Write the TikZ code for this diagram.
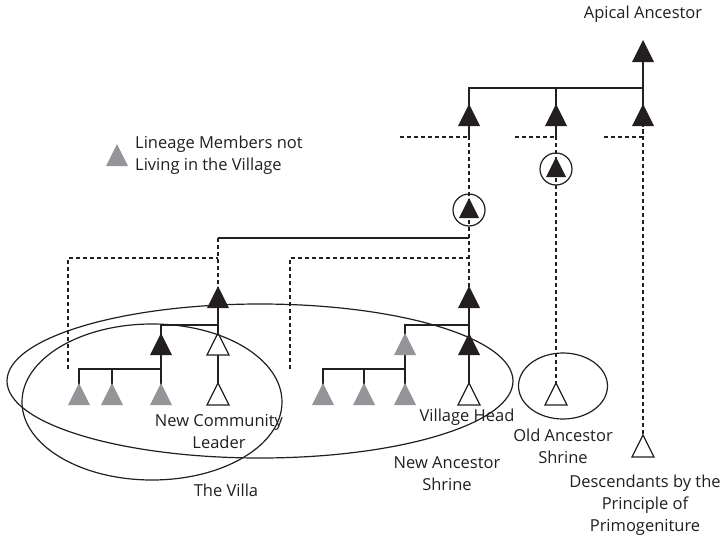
\documentclass[tikz,border=0pt]{standalone}
\usepackage{fontspec}
\setmainfont{Open Sans}
\usetikzlibrary{shapes.geometric}
\pgfdeclarelayer{bg}
\pgfsetlayers{bg,main}
\definecolor{ink}{HTML}{231F20}
\definecolor{lgray}{HTML}{939598}
\begin{document}
\begin{tikzpicture}[x=1pt,y=-1pt,
  font=\fontsize{16.5pt}{22pt}\selectfont,
  trisz/.store in=\tsz, trisz=11pt,
  tri/.style={trisz=11pt, minimum size=26pt, inner sep=0pt, outer sep=0pt,
    path picture={\path[#1]
      ([shift={(-\tsz,-\tsz)}]path picture bounding box.center) --
      ([shift={(0pt,\tsz)}]path picture bounding box.center) --
      ([shift={(\tsz,-\tsz)}]path picture bounding box.center) -- cycle;}},
  blk/.style={tri={fill=ink}},
  gry/.style={tri={fill=lgray}},
  wht/.style={tri={fill=white, draw=ink, line width=1.3pt}},
  conn/.style={draw=ink, line width=1.4pt},
  dashedline/.style={draw=ink, line width=1.3pt, dash pattern=on 4pt off 3pt},
  ring/.style={circle, draw=ink, line width=1.2pt, minimum size=32pt, inner sep=0pt},
  oval/.style={ellipse, draw=ink, line width=1.2pt, inner sep=0pt},
  lbl/.style={text=ink, align=center, inner sep=0pt}]
\useasboundingbox (0,0) rectangle (724,536);

% triangles
\node[blk] (apex) at (643,51) {};
\node[blk] (k1) at (469,115) {};
\node[blk] (k2) at (556,115) {};
\node[blk] (k3) at (643,115) {};
\node[blk, trisz=10pt] (c1) at (469,208) {};
\node[ring] (r1) at (469,210) {};
\node[blk, trisz=10pt] (c2) at (556,167) {};
\node[ring] (r2) at (556,169) {};
\node[blk] (A) at (218,297) {};
\node[blk] (B) at (161,344) {};
\node[wht] (C) at (218,344) {};
\node[gry] (g1) at (79,394) {};
\node[gry] (g2) at (112,394) {};
\node[gry] (g3) at (161,394) {};
\node[wht] (D) at (218,394) {};
\node[blk] (E) at (469,297) {};
\node[gry] (F) at (405,344) {};
\node[blk] (G) at (469,344) {};
\node[gry] (g4) at (323,394) {};
\node[gry] (g5) at (364,394) {};
\node[gry] (g6) at (405,394) {};
\node[wht] (H) at (469,394) {};
\node[wht] (O) at (556,394) {};
\node[wht] (P) at (643,446) {};
\node[gry] (leg) at (117,155) {};

% connectors
\begin{pgfonlayer}{bg}
\fill[white] (0,0) rectangle (724,536);
\coordinate (b1) at (643,88);
\draw[conn] (k1.center) |- (b1) -- (apex.center);
\draw[conn] (k2.center) -- (k2 |- b1);
\draw[conn] (k3.center) -- (b1);
\coordinate (d1) at (400,137);
\coordinate (d2) at (515,137);
\coordinate (d3) at (604,137);
\draw[dashedline] (d1) -| (k1.center);
\draw[dashedline] (d2) -| (k2.center);
\draw[dashedline] (d3) -| (k3.center);
\draw[dashedline] (k1.center) -- (E.center);
\draw[dashedline] (k2.center) -- (O.center);
\draw[dashedline] (k3.center) -- (P.center);
\coordinate (b2) at (469,238);
\draw[conn] (b2) -- (b2 -| A);
\draw[dashedline] (b2 -| A) -- (A.center);
\coordinate (lv) at (0,258);
\coordinate (e1) at (68,369);
\coordinate (e2) at (290,369);
\draw[dashedline] (e1) |- (lv -| A);
\draw[dashedline] (e2) |- (lv -| E);
% left family
\coordinate (m1) at (218,325);
\coordinate (m2) at (161,369);
\draw[conn] (A.center) -- (D.center);
\draw[conn] (B.center) |- (m1);
\draw[conn] (B.center) -- (g3.center);
\draw[conn] (g1.center) |- (m2);
\draw[conn] (g2.center) -- (g2 |- m2);
% right family
\coordinate (m3) at (469,325);
\coordinate (m4) at (405,369);
\draw[conn] (E.center) -- (H.center);
\draw[conn] (F.center) |- (m3);
\draw[conn] (F.center) -- (g6.center);
\draw[conn] (g4.center) |- (m4);
\draw[conn] (g5.center) -- (g5 |- m4);
\end{pgfonlayer}

% labels
\node[lbl] (tApex) at (643,14) {Apical Ancestor};
\node[lbl, anchor=west, align=left] (tLeg) at (135,155) {Lineage Members not\\Living in the Village};
\node[lbl] (tNCL) at (219,432) {New Community\\Leader};
\node[lbl] (tVH) at (467,417) {Village Head};
\node[lbl] (tOAS) at (563,446) {Old Ancestor\\Shrine};
\node[lbl] (tNAS) at (447,474) {New Ancestor\\Shrine};
\node[lbl] (tVilla) at (226,490) {The Villa};
\node[lbl] (tDesc) at (645,505) {Descendants by the\\Principle of\\Primogeniture};

% ellipses
\node[oval, minimum width=506pt, minimum height=154pt] (newshrine) at (260,381) {};
\node[oval, minimum width=260pt, minimum height=156pt] (villa) at (152,402) {};
\node[oval, minimum width=89pt, minimum height=66pt] (oldshrine) at (563,386) {};
\end{tikzpicture}
\end{document}
